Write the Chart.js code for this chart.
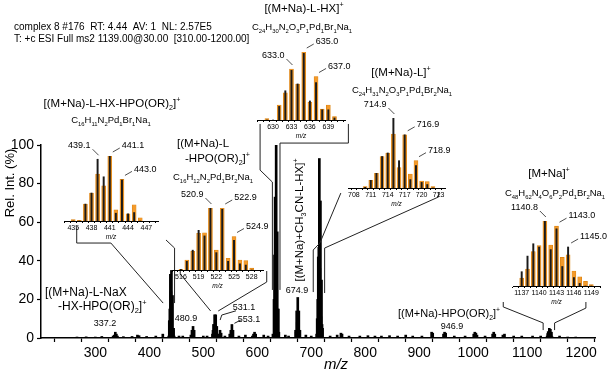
<!DOCTYPE html>
<html>
<head>
<meta charset="utf-8">
<script src="https://cdn.jsdelivr.net/npm/chart.js@4.4.1/dist/chart.umd.min.js"></script>
<style>
  body { margin: 0; background: #fff; }
  #wrap { position: relative; width: 609px; height: 373px; overflow: hidden; }
  canvas { position: absolute; }
</style>
</head>
<body>
<div id="wrap">
  <canvas id="main"></canvas>
  <canvas id="ins1"></canvas>
  <canvas id="ins2"></canvas>
  <canvas id="ins3"></canvas>
  <canvas id="ins4"></canvas>
  <canvas id="ins5"></canvas>
</div>
<script>
const FONT = 'Arial, "Liberation Sans", sans-serif';
const ORANGE = '#f39a2b';

// full spectrum, m/z and relative intensity (%)
const mainMz = [266, 283, 300, 312, 333, 335, 337, 339, 341, 352, 368, 378, 381, 395, 412, 425,
  436, 437, 438, 439, 440, 441, 442, 443, 444, 445, 446, 455, 462,
  477, 479, 480, 481, 482, 483, 500, 507,
  517, 518, 519, 520, 521, 522, 523, 524, 525, 526, 527, 529, 531, 533, 540,
  549, 551, 552, 553, 554, 555, 566, 578, 591, 593, 595, 597, 612, 620,
  629, 631, 632, 633, 634, 635, 636, 637, 638, 639, 640, 652, 658,
  671, 672, 673, 674, 675, 676, 677, 678, 679, 690, 700,
  710, 711, 712, 713, 714, 715, 716, 717, 718, 719, 720, 721,
  735, 748, 755, 757, 770, 790, 805, 818, 830, 845, 860, 875, 888, 905,
  923, 925, 945, 947, 949, 965, 985, 1001, 1003, 1005, 1007, 1022, 1036, 1038, 1040,
  1055, 1058, 1075, 1090, 1110, 1125,
  1137, 1138, 1139, 1140, 1141, 1142, 1143, 1144, 1145, 1146, 1160, 1175, 1190];
const mainInt = [0.5, 0.6, 0.5, 0.8, 1, 1.5, 3, 2, 1, 0.7, 0.8, 1.5, 1.2, 0.8, 1, 2,
  1, 9, 15, 33, 24, 35, 4, 22, 4, 5, 1, 1, 1,
  1.5, 4, 2, 6, 2, 4, 1, 1,
  2, 4, 7, 7, 12, 4, 12, 2, 6, 2, 1, 2, 4, 2.5, 1,
  2, 4, 2, 7, 2, 4, 1, 1.5, 1, 2, 3, 2, 1.5, 1,
  2, 20, 43, 73, 53, 100, 28, 55, 15, 15, 3, 1.5, 1,
  4, 3, 14, 8, 21, 7, 14, 2, 4, 1.5, 1,
  2, 10, 20, 42, 47, 93, 36, 71, 11, 30, 7, 5,
  1, 1.5, 2.5, 2, 1, 1, 1.2, 1, 1, 1.2, 1, 1.5, 1, 1,
  3, 2.5, 2, 3, 2.5, 1, 1, 2, 3, 2.5, 1.5, 1, 2, 3, 2,
  1.5, 2, 1, 1, 1, 1,
  1, 2.3, 3.3, 3.1, 5, 2.8, 4.5, 1.5, 3, 0.7, 1, 0.5, 0.5];

// insets: measured (black) and calculated (orange) isotope patterns
const in1Mz = [435, 436, 437, 438, 439, 440, 441, 442, 443, 444, 445, 446];
const in1Calc = [2, 1, 26, 43, 72, 54, 100, 17, 64, 11, 25, 5];
const in1Exp = [0, 0, 26, 43, 95, 68, 100, 12, 63, 11, 13, 0];

const in2Mz = [516, 517, 518, 519, 520, 521, 522, 523, 524, 525, 526, 527, 528];
const in2Calc = [1, 16, 30, 59, 60, 100, 32, 100, 19, 54, 16, 15, 3];
const in2Exp = [1, 14, 32, 64, 55, 100, 28, 98, 14, 48, 10, 8, 0];

const in3Mz = [629, 630, 631, 632, 633, 634, 635, 636, 637, 638, 639, 640];
const in3Calc = [2, 0, 22, 40, 75, 53, 100, 26, 64, 16, 22, 5];
const in3Exp = [0, 0, 20, 43, 73, 53, 98, 28, 55, 15, 15, 3];

const in4Mz = [710, 711, 712, 713, 714, 715, 716, 717, 718, 719, 720, 721, 722];
const in4Calc = [2, 11, 21, 45, 50, 77, 29, 76, 20, 39, 10, 9, 2];
const in4Exp = [1, 11, 21, 45, 50, 100, 39, 76, 12, 32, 8, 5, 0];

const in5Mz = [1137, 1138, 1139, 1140, 1141, 1142, 1143, 1144, 1145, 1146, 1147, 1148, 1149];
const in5Calc = [12, 26, 53, 62, 100, 63, 92, 44, 48, 23, 14, 7, 2];
const in5Exp = [22, 46, 65, 60, 100, 56, 88, 30, 60, 13, 4, 0, 0];

// connector lines from the insets down to the peaks, in (m/z, %) units
const links = [
  [[265.5, 57.5], [265.5, 49.2], [328.8, 49.2], [425.6, 18.1]],
  [[430.9, 50.8], [446.8, 46.6], [446.8, 18.1]],
  [[457.3, 34.7], [457.3, 33.2], [513.6, 14.0]],
  [[617.5, 34.7], [617.5, 29.0], [527.7, 14.0]],
  [[605.2, 110.9], [605.2, 87.0], [628.0, 80.8], [628.0, 24.9]],
  [[768.8, 110.9], [768.8, 101], [642.1, 101], [642.1, 24.9]],
  [[754.8, 75.1], [716.0, 49.2], [703.7, 45.6], [703.7, 23.8]],
  [[936, 75.6], [936, 73.1], [724.8, 46.6], [724.8, 23.3]],
  [[1055.7, 18.65], [1055.7, 16.1], [1129.6, 7.8], [1129.6, 4.1]],
  [[1208.8, 18.65], [1208.8, 15.5], [1150.8, 7.8], [1150.8, 4.1]],
  [[560.6, 14.1], [534.2, 11.9], [531.2, 9.3]],
  [[569.4, 9.3], [557.6, 7.6]]
];

const notes = [
  {t: 'complex 8 #176  RT: 4.44  AV: 1  NL: 2.57E5', x: 14, y: 26, s: 10},
  {t: 'T: +c ESI Full ms2 1139.00@30.00  [310.00-1200.00]', x: 14, y: 38, s: 10},
  {t: 'Rel. Int. (%)', x: 9, y: 183, s: 13, a: 'center', r: true},
  {t: '[(M+Na)-L-HX-HPO(OR)_{2}]^{+}', x: 112, y: 103, s: 11.5, a: 'center'},
  {t: 'C_{16}H_{11}N_{2}Pd_{1}Br_{1}Na_{1}', x: 111, y: 120, s: 9.5, a: 'center'},
  {t: '[(M+Na)-L', x: 177, y: 143, s: 11.5},
  {t: '-HPO(OR)_{2}]^{+}', x: 185, y: 158, s: 11.5},
  {t: 'C_{16}H_{12}N_{2}Pd_{1}Br_{2}Na_{1}', x: 213, y: 177, s: 9.5, a: 'center'},
  {t: '[(M+Na)-L-HX]^{+}', x: 304, y: 8, s: 11.5, a: 'center'},
  {t: 'C_{24}H_{30}N_{2}O_{3}P_{1}Pd_{1}Br_{1}Na_{1}', x: 302, y: 27, s: 9.5, a: 'center'},
  {t: '[(M+Na)-L]^{+}', x: 401, y: 72, s: 11.5, a: 'center'},
  {t: 'C_{24}H_{31}N_{2}O_{3}P_{1}Pd_{1}Br_{2}Na_{1}', x: 402, y: 90, s: 9.5, a: 'center'},
  {t: '[M+Na]^{+}', x: 549, y: 173, s: 11.5, a: 'center'},
  {t: 'C_{48}H_{62}N_{4}O_{6}P_{2}Pd_{1}Br_{2}Na_{1}', x: 555, y: 193, s: 9.5, a: 'center'},
  {t: '[(M+Na)-L-NaX', x: 45, y: 292, s: 12},
  {t: '-HX-HPO(OR)_{2}]^{+}', x: 58, y: 306, s: 12},
  {t: '337.2', x: 105, y: 323, s: 9, a: 'center'},
  {t: '480.9', x: 186, y: 318, s: 9, a: 'center'},
  {t: '531.1', x: 244, y: 307, s: 9, a: 'center'},
  {t: '553.1', x: 249, y: 319, s: 9, a: 'center'},
  {t: '674.9', x: 297, y: 290, s: 9, a: 'center'},
  {t: '[(M+Na)+CH_{3}CN-L-HX]^{+}', x: 299, y: 220, s: 11.5, a: 'center', r: true},
  {t: '[(M+Na)-HPO(OR)_{2}]^{+}', x: 449, y: 313, s: 11, a: 'center'},
  {t: '946.9', x: 452, y: 326, s: 9, a: 'center'},
  {t: 'm/z', x: 336, y: 364, s: 15, a: 'center', i: true}
];

function parseRich(str) {
  const out = [];
  let i = 0;
  while (i < str.length) {
    if ((str[i] === '_' || str[i] === '^') && str[i + 1] === '{') {
      const j = str.indexOf('}', i);
      out.push({t: str.slice(i + 2, j), k: str[i]});
      i = j + 1;
    } else {
      let j = i;
      while (j < str.length && !((str[j] === '_' || str[j] === '^') && str[j + 1] === '{')) j++;
      out.push({t: str.slice(i, j), k: ''});
      i = j;
    }
  }
  return out;
}

function richText(ctx, str, x, y, size, align, italic) {
  const parts = parseRich(str);
  const small = size * 0.62;
  const fontOf = s => (italic ? 'italic ' : '') + s + 'px ' + FONT;
  let w = 0;
  parts.forEach(p => { ctx.font = fontOf(p.k ? small : size); p.w = ctx.measureText(p.t).width; w += p.w; });
  let cx = align === 'center' ? x - w / 2 : align === 'right' ? x - w : x;
  ctx.textAlign = 'left';
  ctx.textBaseline = 'alphabetic';
  ctx.fillStyle = '#000';
  const base = y + size * 0.36;
  parts.forEach(p => {
    ctx.font = fontOf(p.k ? small : size);
    const dy = p.k === '_' ? size * 0.25 : p.k === '^' ? -size * 0.42 : 0;
    ctx.fillText(p.t, cx, base + dy);
    cx += p.w;
  });
}

const notesPlugin = {
  id: 'notes',
  afterDraw(chart) {
    const ctx = chart.ctx;
    const xs = chart.scales.x, ys = chart.scales.y;
    ctx.save();
    ctx.strokeStyle = '#222';
    ctx.lineWidth = 1;
    links.forEach(pts => {
      ctx.beginPath();
      pts.forEach((p, i) => {
        const px = xs.getPixelForValue(p[0]), py = ys.getPixelForValue(p[1]);
        if (i === 0) ctx.moveTo(px, py); else ctx.lineTo(px, py);
      });
      ctx.stroke();
    });
    notes.forEach(n => {
      if (n.r) {
        ctx.save();
        ctx.translate(n.x, n.y);
        ctx.rotate(-Math.PI / 2);
        richText(ctx, n.t, 0, 0, n.s, 'center', n.i);
        ctx.restore();
      } else {
        richText(ctx, n.t, n.x, n.y, n.s, n.a || 'left', n.i);
      }
    });
    ctx.restore();
  }
};

const mainCanvas = document.getElementById('main');
mainCanvas.width = 609;
mainCanvas.height = 373;
mainCanvas.style.left = '0px';
mainCanvas.style.top = '0px';

new Chart(mainCanvas, {
  type: 'bar',
  data: {
    datasets: [{
      data: mainMz.map((m, i) => ({x: m, y: mainInt[i]})),
      backgroundColor: '#000',
      barThickness: 2,
      grouped: false
    }]
  },
  options: {
    responsive: false,
    animation: false,
    devicePixelRatio: 1,
    layout: { padding: { top: 145, right: 14, bottom: 0, left: 0 } },
    plugins: { legend: { display: false }, tooltip: { enabled: false } },
    scales: {
      x: {
        type: 'linear', min: 225, max: 1200,
        border: { color: '#000', width: 1.5 },
        grid: { drawOnChartArea: false, tickLength: 4, color: '#000', tickWidth: 1.2 },
        ticks: {
          stepSize: 50, includeBounds: false, autoSkip: false, maxRotation: 0, padding: 3, color: '#000',
          font: { size: 14, family: FONT },
          callback: v => v % 100 === 0 ? v : ''
        },
        afterFit: s => { s.height = 35; s.paddingLeft = 0; s.paddingRight = 0; }
      },
      y: {
        min: 0, max: 100,
        border: { color: '#000', width: 1.5 },
        grid: { drawOnChartArea: false, tickLength: 4, color: '#000', tickWidth: 1.2 },
        ticks: {
          stepSize: 10, padding: 3, color: '#000',
          font: { size: 14, family: FONT },
          callback: v => v % 20 === 0 ? v : ''
        },
        afterFit: s => { s.width = 41; }
      }
    }
  },
  plugins: [notesPlugin]
});

// inset geometry: axis pixel span, axis line y, height of 100 %
const insets = [
  {id: 'ins1', mz: in1Mz, calc: in1Calc, exp: in1Exp, min: 434, max: 448.4, first: 435,
   left: 63.5, right: 157.4, axisY: 221, plotH: 65,
   labels: [{t: '439.1', mz: 439, d: 'l'}, {t: '441.1', mz: 441, d: 'r'}, {t: '443.0', mz: 443, d: 'r'}]},
  {id: 'ins2', mz: in2Mz, calc: in2Calc, exp: in2Exp, min: 515, max: 529.4, first: 516,
   left: 172, right: 263, axisY: 270, plotH: 62,
   labels: [{t: '520.9', mz: 521, d: 'l'}, {t: '522.9', mz: 523, d: 'r'}, {t: '524.9', mz: 525, d: 'r'}]},
  {id: 'ins3', mz: in3Mz, calc: in3Calc, exp: in3Exp, min: 627.9, max: 641.2, first: 630,
   left: 257, right: 345, axisY: 120, plotH: 68,
   labels: [{t: '633.0', mz: 633, d: 'l'}, {t: '635.0', mz: 635, d: 'r'}, {t: '637.0', mz: 637, d: 'r'}]},
  {id: 'ins4', mz: in4Mz, calc: in4Calc, exp: in4Exp, min: 707.5, max: 723.6, first: 708,
   left: 348, right: 445, axisY: 188, plotH: 70,
   labels: [{t: '714.9', mz: 715, d: 'l'}, {t: '716.9', mz: 717, d: 'r'}, {t: '718.9', mz: 719, d: 'r'}]},
  {id: 'ins5', mz: in5Mz, calc: in5Calc, exp: in5Exp, min: 1136, max: 1150, first: 1137,
   left: 513, right: 600, axisY: 286, plotH: 65,
   labels: [{t: '1140.8', mz: 1141, d: 'l'}, {t: '1143.0', mz: 1143, d: 'r'}, {t: '1145.0', mz: 1145, d: 'r'}]}
];

const PADX = 24, PADTOP = 26, AXH = 20;

insets.forEach(cfg => {
  const cv = document.getElementById(cfg.id);
  cv.width = Math.round(cfg.right - cfg.left) + 2 * PADX;
  cv.height = PADTOP + cfg.plotH + AXH;
  cv.style.left = (cfg.left - PADX) + 'px';
  cv.style.top = (cfg.axisY - cfg.plotH - PADTOP) + 'px';

  const labelPlugin = {
    id: 'peakLabels',
    afterDraw(chart) {
      const ctx = chart.ctx;
      const xs = chart.scales.x, ys = chart.scales.y;
      ctx.save();
      ctx.strokeStyle = '#222';
      ctx.lineWidth = 0.8;
      cfg.labels.forEach(l => {
        const i = cfg.mz.indexOf(l.mz);
        const x = xs.getPixelForValue(l.mz);
        const top = ys.getPixelForValue(Math.max(cfg.calc[i], cfg.exp[i]));
        ctx.beginPath();
        if (l.d === 'l') {
          ctx.moveTo(x + 1, top - 4);
          ctx.lineTo(x - 5, top - 10);
          ctx.stroke();
          richText(ctx, l.t, x - 7, top - 14, 9, 'right');
        } else {
          ctx.moveTo(x + 3, top - 4);
          ctx.lineTo(x + 10, top - 8);
          ctx.stroke();
          richText(ctx, l.t, x + 12, top - 11, 9, 'left');
        }
      });
      ctx.restore();
    }
  };

  new Chart(cv, {
    type: 'bar',
    data: {
      datasets: [
        {data: cfg.mz.map((m, i) => ({x: m, y: cfg.exp[i]})), backgroundColor: '#1a1a1a',
         barThickness: 1.3, grouped: false},
        {data: cfg.mz.map((m, i) => ({x: m, y: cfg.calc[i]})), backgroundColor: ORANGE,
         borderColor: '#d9800f', borderWidth: 0.6, barThickness: 4, grouped: false}
      ]
    },
    options: {
      responsive: false,
      animation: false,
      devicePixelRatio: 1,
      layout: { padding: { top: PADTOP, left: PADX, right: PADX, bottom: 0 } },
      plugins: { legend: { display: false }, tooltip: { enabled: false } },
      scales: {
        x: {
          type: 'linear', min: cfg.min, max: cfg.max,
          border: { color: '#000', width: 1 },
          grid: { drawOnChartArea: false, tickLength: 2, color: '#000' },
          ticks: {
            stepSize: 1, includeBounds: false, autoSkip: false, maxRotation: 0, padding: 1, color: '#000',
            font: { size: 7, family: FONT },
            callback: v => (v - cfg.first) % 3 === 0 ? v : ''
          },
          title: { display: true, text: 'm/z', color: '#000', padding: 0,
                   font: { size: 6.5, style: 'italic', family: FONT } },
          afterFit: s => { s.height = AXH; s.paddingLeft = 0; s.paddingRight = 0; }
        },
        y: { display: false, min: 0, max: 100 }
      }
    },
    plugins: [labelPlugin]
  });
});
</script>
</body>
</html>
